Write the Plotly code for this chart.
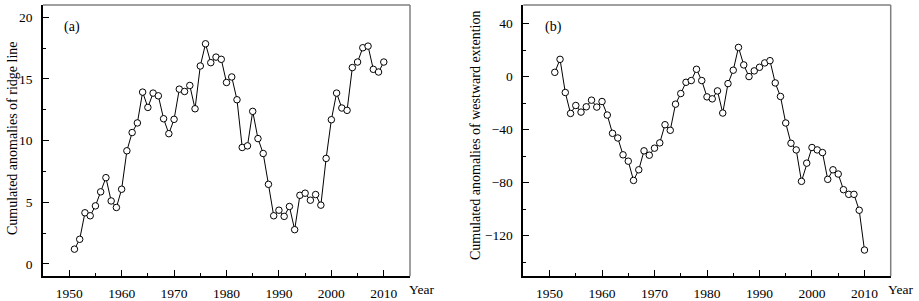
import plotly.graph_objects as go

years = list(range(1951, 2011))

ridge_line = [1.19, 1.99, 4.14, 3.90, 4.70, 5.84, 6.99, 5.10, 4.57, 6.05,
              9.17, 10.65, 11.43, 13.93, 12.69, 13.85, 13.63, 11.77, 10.56, 11.72,
              14.17, 13.98, 14.47, 12.58, 16.05, 17.85, 16.32, 16.77, 16.59, 14.71,
              15.16, 13.31, 9.44, 9.57, 12.37, 10.16, 8.95, 6.45, 3.90, 4.35,
              3.85, 4.65, 2.77, 5.56, 5.73, 5.16, 5.62, 4.76, 8.55, 11.69,
              13.85, 12.64, 12.45, 15.92, 16.37, 17.53, 17.66, 15.78, 15.56, 16.37]

westward = [3.2, 13.0, -12.0, -27.8, -21.8, -26.8, -22.8, -17.8, -23.0, -18.8,
            -29.0, -42.8, -46.3, -59.0, -63.8, -78.3, -70.3, -56.0, -59.3, -54.0,
            -50.0, -36.3, -40.5, -20.8, -12.8, -4.3, -3.0, 5.5, -3.0, -15.3,
            -16.8, -10.8, -27.5, -5.3, 4.8, 22.0, 8.8, 0.0, 4.3, 7.0,
            10.3, 12.0, -4.8, -15.0, -35.0, -50.3, -55.3, -79.0, -65.3, -53.5,
            -55.3, -57.3, -77.5, -70.3, -73.5, -85.3, -88.8, -88.8, -100.8, -130.8]

x_ticks = [1950, 1960, 1970, 1980, 1990, 2000, 2010]
left_ticks = [0, 5, 10, 15, 20]
right_ticks = [-120, -80, -40, 0, 40]

W, H = 919, 301
FONT = "Times New Roman, Liberation Serif, DejaVu Serif, serif"

def px_x(p):
    return p / W

def px_y(p):
    return (H - p) / H

fig = go.Figure()

marker = dict(symbol="circle", size=6.5, color="white", line=dict(color="black", width=1))

fig.add_trace(go.Scatter(x=years, y=ridge_line, mode="lines+markers",
                         line=dict(color="black", width=1), marker=marker,
                         xaxis="x", yaxis="y", showlegend=False))
fig.add_trace(go.Scatter(x=years, y=westward, mode="lines+markers",
                         line=dict(color="black", width=1), marker=marker,
                         xaxis="x2", yaxis="y2", showlegend=False))

xl = [px_x(43), px_x(410)]
xr = [px_x(523.3), px_x(890.7)]
yd = [px_y(278), px_y(5)]

common_x = dict(range=[1945, 2015], tickmode="array", tickvals=x_ticks,
                ticks="inside", ticklen=6, tickwidth=1, tickcolor="black",
                showline=True, linecolor="black", linewidth=1.5,
                showgrid=False, zeroline=False,
                tickfont=dict(family=FONT, size=13.5, color="black"),
                ticklabelstandoff=4,
                minor=dict(dtick=5, tick0=1945, ticks="inside", ticklen=3,
                           tickwidth=1, tickcolor="black"))
common_y = dict(ticks="inside", ticklen=6, tickwidth=1, tickcolor="black",
                showline=True, linecolor="black", linewidth=1.5,
                showgrid=False, zeroline=False,
                tickfont=dict(family=FONT, size=13.5, color="black"),
                ticklabelstandoff=6)

fig.update_layout(
    width=W, height=H,
    margin=dict(l=0, r=0, t=0, b=0),
    paper_bgcolor="white", plot_bgcolor="white",
    font=dict(family=FONT, color="black"),
    xaxis=dict(domain=xl, anchor="y", **common_x),
    xaxis2=dict(domain=xr, anchor="y2", **common_x),
    yaxis=dict(domain=yd, anchor="x", range=[-1, 21], tickmode="array",
               tickvals=left_ticks,
               minor=dict(dtick=2.5, tick0=0, ticks="inside", ticklen=3,
                          tickwidth=1, tickcolor="black"),
               **common_y),
    yaxis2=dict(domain=yd, anchor="x2", range=[-150.5, 54], tickmode="array",
                tickvals=right_ticks,
                minor=dict(dtick=20, tick0=0, ticks="inside", ticklen=3,
                           tickwidth=1, tickcolor="black"),
                **common_y),
)

# gray top/right frame lines
for xd in (xl, xr):
    fig.add_shape(type="line", xref="paper", yref="paper",
                  x0=xd[0], x1=xd[1], y0=yd[1], y1=yd[1],
                  line=dict(color="#7f7f7f", width=1.5))
    fig.add_shape(type="line", xref="paper", yref="paper",
                  x0=xd[1], x1=xd[1], y0=yd[0], y1=yd[1],
                  line=dict(color="#7f7f7f", width=1.5))

title_font = dict(family=FONT, size=14, color="black")
fig.add_annotation(text="Cumulated anomalies of ridge line", xref="paper", yref="paper",
                   x=px_x(12), y=px_y(139), xanchor="center", yanchor="middle",
                   textangle=-90, showarrow=False, font=title_font)
fig.add_annotation(text="Cumulated anomalies of westward extention", xref="paper", yref="paper",
                   x=px_x(475), y=px_y(136), xanchor="center", yanchor="middle",
                   textangle=-90, showarrow=False, font=title_font)

ann_font = dict(family=FONT, size=14, color="black")
fig.add_annotation(text="(a)", xref="paper", yref="paper", x=px_x(62), y=px_y(27),
                   xanchor="left", yanchor="middle", showarrow=False, font=ann_font)
fig.add_annotation(text="(b)", xref="paper", yref="paper", x=px_x(543), y=px_y(27),
                   xanchor="left", yanchor="middle", showarrow=False, font=ann_font)
fig.add_annotation(text="Year", xref="paper", yref="paper", x=px_x(407), y=px_y(291),
                   xanchor="left", yanchor="middle", showarrow=False,
                   font=dict(family=FONT, size=13.5, color="black"))
fig.add_annotation(text="Year", xref="paper", yref="paper", x=px_x(886), y=px_y(291),
                   xanchor="left", yanchor="middle", showarrow=False,
                   font=dict(family=FONT, size=13.5, color="black"))

fig.write_html("out.html",
               config={"displayModeBar": False},
               post_script="document.body.style.margin='0';document.body.style.overflow='hidden';")
